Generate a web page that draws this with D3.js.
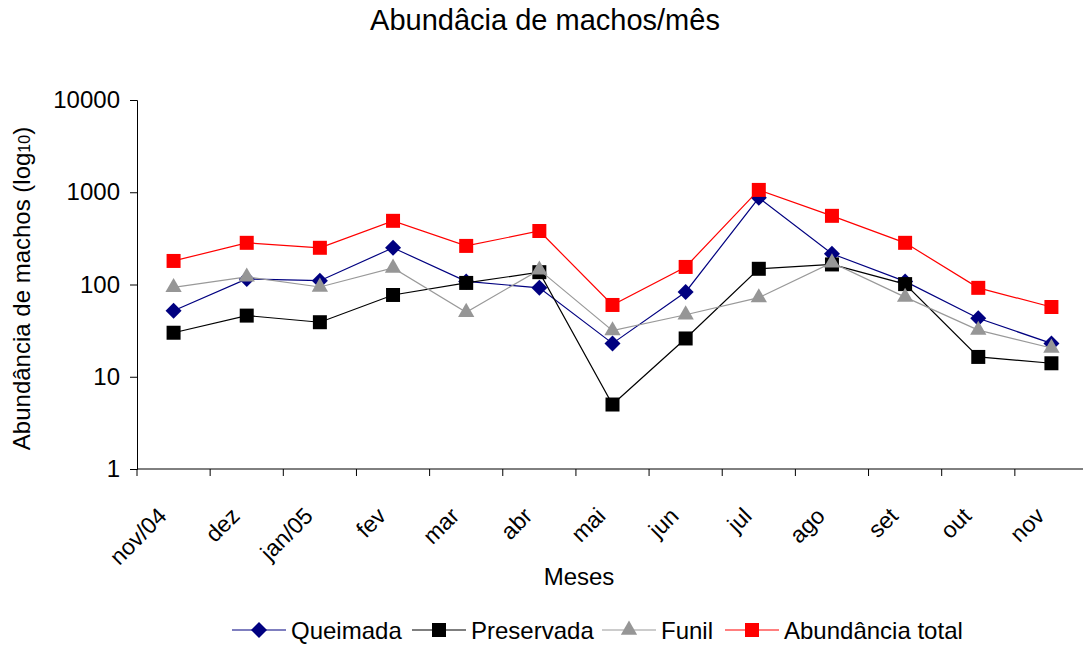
<!DOCTYPE html>
<html>
<head>
<meta charset="utf-8">
<script src="https://cdn.jsdelivr.net/npm/d3@7"></script>
<style>
  body { margin: 0; background: #fff; overflow: hidden; }
  text { font-family: "Liberation Sans", Arial, sans-serif; fill: #000; }
</style>
</head>
<body>
<script>
const months = ['nov/04', 'dez', 'jan/05', 'fev', 'mar', 'abr', 'mai', 'jun', 'jul', 'ago', 'set', 'out', 'nov'];
const queimada = [52, 115, 110, 250, 108, 92, 23, 83, 870, 215, 108, 43, 23];
const preservada = [30, 46, 39, 77, 104, 136, 5, 26, 148, 165, 101, 16.4, 14];
const funil = [93, 121, 94, 151, 50, 144, 31.6, 47, 72, 172, 73, 32, 20.5];
const total = [180, 283, 250, 490, 262, 380, 60, 155, 1060, 555, 283, 92, 57];
const yTicks = [1, 10, 100, 1000, 10000];

const series = [
  { name: 'Queimada', values: queimada, color: '#000080', fill: '#000080', shape: 'diamond' },
  { name: 'Preservada', values: preservada, color: '#000000', fill: '#000000', shape: 'square' },
  { name: 'Funil', values: funil, color: '#999999', fill: '#969696', shape: 'triangle' },
  { name: 'Abundância total', values: total, color: '#ff0000', fill: '#ff0000', shape: 'square' }
];

const W = 1083, H = 646;
// plot area runs slightly past the right edge of the window, as in the original
const margin = { top: 100, right: -5, bottom: 177, left: 137 };
const width = W - margin.left - margin.right;
const height = H - margin.top - margin.bottom;

const svg = d3.select('body').append('svg')
  .attr('width', W).attr('height', H);

const g = svg.append('g')
  .attr('transform', `translate(${margin.left},${margin.top})`);

const x = d3.scaleBand().domain(months).range([0, width]);
const y = d3.scaleLog().domain([1, 10000]).range([height, 0]);

function markerPath(shape) {
  if (shape === 'diamond') return d3.symbol(d3.symbolSquare, 128)();
  if (shape === 'triangle') return d3.symbol(d3.symbolTriangle, 115)();
  return d3.symbol(d3.symbolSquare, 196)();
}

// title
svg.append('text')
  .attr('x', 545).attr('y', 30)
  .attr('text-anchor', 'middle')
  .style('font-size', '29px')
  .text('Abundâcia de machos/mês');

// y axis
const yAxis = g.append('g')
  .call(d3.axisLeft(y).tickValues(yTicks).tickFormat(d3.format('d')).tickSize(7).tickPadding(10));
yAxis.select('.domain').attr('stroke', '#000');
yAxis.selectAll('text').style('font-size', '24px');

// x axis
const xAxis = g.append('g')
  .attr('transform', `translate(0,${height})`)
  .call(d3.axisBottom(x).tickSize(0).tickPadding(0));
xAxis.select('.domain').attr('d', `M0,0H${width}`).attr('stroke', '#000');
xAxis.selectAll('.tick text')
  .style('font-size', '23px')
  .attr('text-anchor', 'end')
  .attr('transform', 'translate(-17,37) rotate(-45)')
  .attr('dy', '0.7em');
// category boundary ticks
g.append('g').selectAll('line')
  .data(months)
  .join('line')
  .attr('x1', d => x(d)).attr('x2', d => x(d))
  .attr('y1', height).attr('y2', height + 7)
  .attr('stroke', '#000');

// axis titles
svg.append('text')
  .attr('x', 579).attr('y', 585)
  .attr('text-anchor', 'middle')
  .style('font-size', '24px')
  .text('Meses');

const yt = svg.append('text')
  .attr('transform', `translate(30,${margin.top + height / 2 + 4}) rotate(-90)`)
  .attr('text-anchor', 'middle')
  .style('font-size', '24px');
yt.append('tspan').text('Abundância de machos (log');
yt.append('tspan').style('font-size', '16px').text('10');
yt.append('tspan').text(')');

// series
const cx = d => x(d) + x.bandwidth() / 2;
const line = d3.line().x((v, i) => cx(months[i])).y(v => y(v));

series.forEach(s => {
  const sg = g.append('g');
  sg.append('path')
    .attr('d', line(s.values))
    .attr('fill', 'none')
    .attr('stroke', s.color)
    .attr('stroke-width', 1.2);
  sg.selectAll('path.m')
    .data(s.values)
    .join('path')
    .attr('class', 'm')
    .attr('d', markerPath(s.shape))
    .attr('fill', s.fill)
    .attr('transform', (v, i) => `translate(${cx(months[i])},${y(v)})` + (s.shape === 'diamond' ? ' rotate(45)' : ''));
});

// legend
const legendX = [232, 412, 602, 725];
const legend = svg.append('g').attr('transform', 'translate(0,630)');
series.forEach((s, i) => {
  const lx = legendX[i];
  legend.append('line')
    .attr('x1', lx).attr('x2', lx + 54)
    .attr('y1', 0).attr('y2', 0)
    .attr('stroke', s.color).attr('stroke-width', 1.2);
  legend.append('path')
    .attr('d', markerPath(s.shape))
    .attr('fill', s.fill)
    .attr('transform', `translate(${lx + 27},0)` + (s.shape === 'diamond' ? ' rotate(45)' : ''));
  legend.append('text')
    .attr('x', lx + 59).attr('y', 0).attr('dy', '0.36em')
    .style('font-size', '24px')
    .text(s.name);
});
</script>
</body>
</html>
